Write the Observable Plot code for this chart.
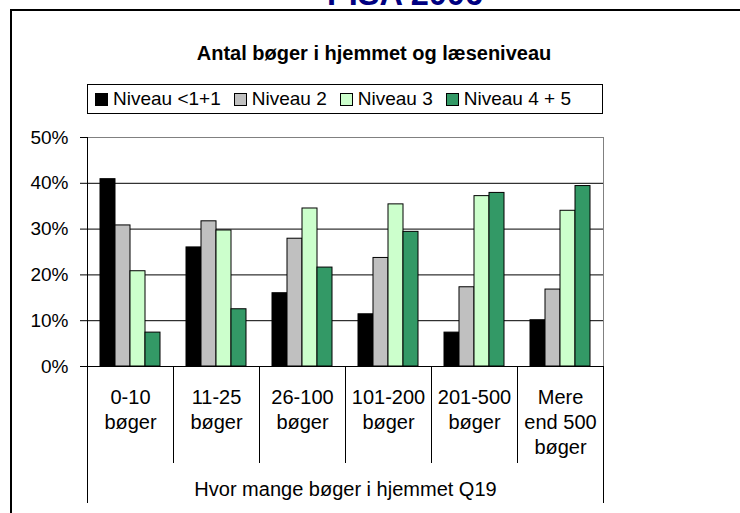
<!DOCTYPE html>
<html>
<head>
<meta charset="utf-8">
<script src="https://cdn.jsdelivr.net/npm/d3@7"></script>
<script src="https://cdn.jsdelivr.net/npm/@observablehq/plot@0.6"></script>
<style>
  html, body { margin: 0; padding: 0; background: #fff; }
  #wrap { position: relative; width: 740px; height: 513px; overflow: hidden; background: #fff;
          font-family: "Liberation Sans", Arial, sans-serif; color: #000; }
  #chart { position: absolute; left: 0; top: 0; }
  .abs { position: absolute; box-sizing: border-box; }
  #pisa { left: 255px; width: 300px; top: -22px; height: 32px; line-height: 32px; text-align: center;
          font-size: 32.5px; font-weight: bold; color: #000080; white-space: nowrap; }
  #title { left: 74px; width: 600px; top: 43px; line-height: 20px; text-align: center;
           font-size: 20px; font-weight: bold; white-space: nowrap; }
  #legend { left: 87px; top: 84px; width: 516px; height: 30px; border: 1px solid #000;
            display: flex; align-items: center; padding-left: 7px; font-size: 19px; white-space: nowrap; }
  .item { display: flex; align-items: center; margin-right: 13px; }
  .sw { width: 13px; height: 13px; box-sizing: border-box; border: 1px solid #000; margin-right: 5px; }
</style>
</head>
<body>
<div id="wrap">
  <div id="chart"></div>
</div>
<script>
// ---- data ----
const categories = ["0-10 bøger", "11-25 bøger", "26-100 bøger", "101-200 bøger", "201-500 bøger", "Mere end 500 bøger"];
const categoryLabels = ["0-10\nbøger", "11-25\nbøger", "26-100\nbøger", "101-200\nbøger", "201-500\nbøger", "Mere\nend 500\nbøger"];
const levels = ["Niveau <1+1", "Niveau 2", "Niveau 3", "Niveau 4 + 5"];
const levelColors = ["#000000", "#C0C0C0", "#CCFFCC", "#339966"];
const niveau1 = [40.9, 26.0, 16.0, 11.4, 7.4, 10.1];
const niveau2 = [30.8, 31.7, 27.9, 23.7, 17.3, 16.8];
const niveau3 = [20.8, 29.7, 34.5, 35.4, 37.2, 34.0];
const niveau45 = [7.4, 12.5, 21.6, 29.4, 37.9, 39.4];
const yTicks = [0, 10, 20, 30, 40, 50];
const gridTicks = [10, 20, 30, 40];
const topTick = [50];
const mainTitle = "PISA 2006";
const chartTitle = "Antal bøger i hjemmet og læseniveau";
const xTitle = "Hvor mange bøger i hjemmet Q19";

const series = [niveau1, niveau2, niveau3, niveau45];
const rows = categories.flatMap((c, i) => levels.map((l, j) => ({cat: c, level: l, value: series[j][i]})));
const labelOf = new Map(categories.map((c, i) => [c, categoryLabels[i]]));

const plot = Plot.plot({
  width: 740,
  height: 513,
  marginTop: 137,
  marginBottom: 147,
  marginLeft: 87,
  marginRight: 137,
  style: {fontFamily: "'Liberation Sans', Arial, sans-serif", fontSize: "19px", color: "#000", background: "transparent", overflow: "visible"},
  fx: {domain: categories, padding: 0},
  x: {domain: levels, paddingInner: 0, paddingOuter: 0.69, axis: null},
  y: {domain: [0, 50]},
  color: {domain: levels, range: levelColors},
  marks: [
    Plot.ruleY(gridTicks, {y: d => d, stroke: "#000", strokeWidth: 1}),
    Plot.ruleY(topTick, {y: d => d, stroke: "#808080", strokeWidth: 1}),
    Plot.barY(rows, {fx: "cat", x: "level", y: "value", fill: "level", stroke: "#000", strokeWidth: 1}),
    Plot.ruleY([0], {stroke: "#000", strokeWidth: 1}),
    Plot.frame({anchor: "left", insetTop: 229, insetBottom: -96, stroke: "#000"}),
    Plot.frame({anchor: "right", insetTop: 229, insetBottom: -96, stroke: "#000"}),
    Plot.axisY({ticks: yTicks, tickFormat: d => d + "%", tickSize: 7, tickPadding: 12, label: null, stroke: "#000"}),
    Plot.axisFx({anchor: "bottom", tickSize: 0, tickPadding: 20, fontSize: 20, lineHeight: 1.25, tickFormat: d => labelOf.get(d),
                 label: xTitle, labelAnchor: "center", labelOffset: 129})
  ]
});
document.getElementById("chart").appendChild(plot);

const wrap = document.getElementById("wrap");
function add(id, cls, text) {
  const d = document.createElement("div");
  if (id) d.id = id;
  d.className = cls;
  if (text) d.textContent = text;
  wrap.appendChild(d);
  return d;
}
add("pisa", "abs", mainTitle);
add("title", "abs", chartTitle);
const legend = add("legend", "abs");
levels.forEach((l, i) => {
  const it = document.createElement("div");
  it.className = "item";
  const sw = document.createElement("div");
  sw.className = "sw";
  sw.style.background = levelColors[i];
  const t = document.createElement("span");
  t.textContent = l;
  it.appendChild(sw); it.appendChild(t);
  legend.appendChild(it);
});
// outer slide frame
const fr = add(null, "abs");
Object.assign(fr.style, {left: "10px", top: "9px", right: "-5px", bottom: "-5px", borderLeft: "2px solid #000", borderTop: "2px solid #000"});
// plot area left axis line & right border
const pa = add(null, "abs");
Object.assign(pa.style, {left: "87px", top: "137px", width: "517px", height: "230px", borderLeft: "1px solid #000", borderRight: "1px solid #808080"});
// outer category box lines below axis
const cb = add(null, "abs");
Object.assign(cb.style, {left: "87px", top: "366px", width: "517px", height: "137px", borderLeft: "1px solid #000", borderRight: "1px solid #000"});
</script>
</body>
</html>
